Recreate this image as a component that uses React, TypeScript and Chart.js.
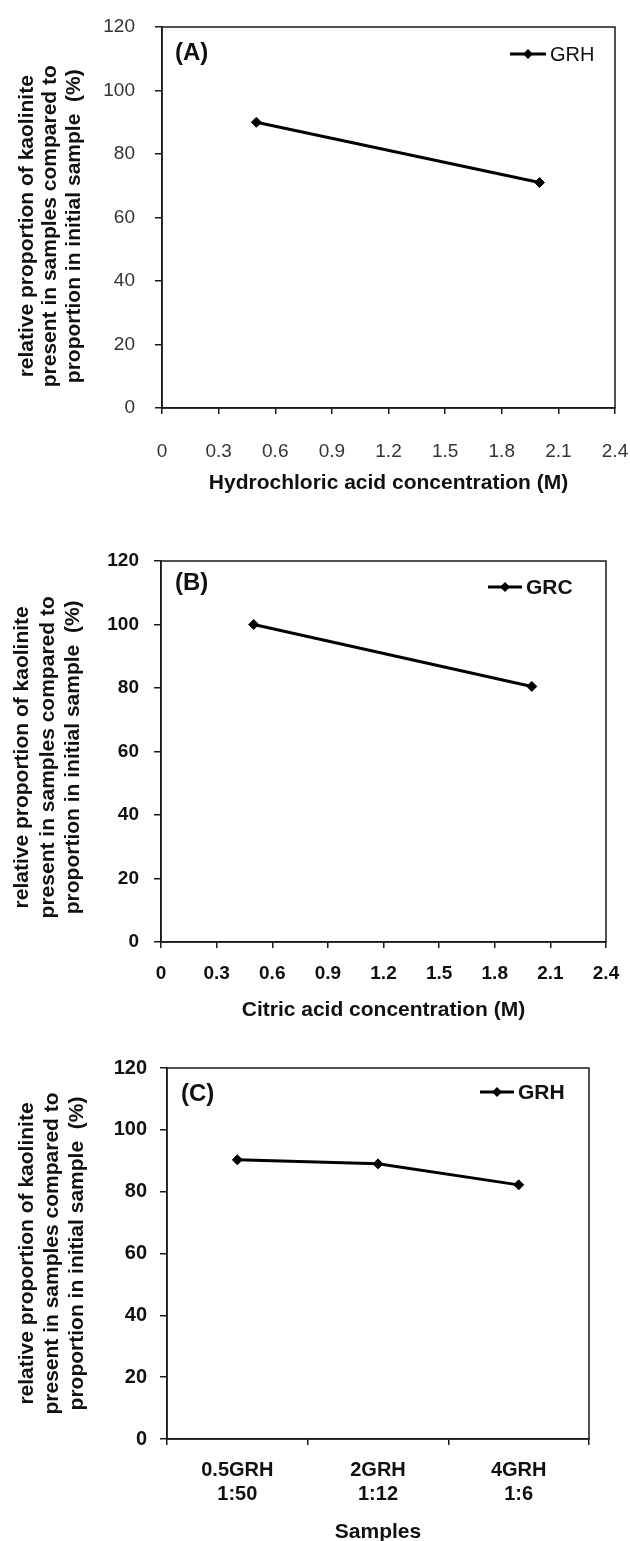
import React, { useEffect, useRef } from 'react';
import { Chart, registerables } from 'chart.js';

Chart.register(...registerables);

const FONT = "'Liberation Sans', Arial, Helvetica, sans-serif";

// ---- data ----
const concentrationTicks = [0, 0.3, 0.6, 0.9, 1.2, 1.5, 1.8, 2.1, 2.4];
const percentTicks = [0, 20, 40, 60, 80, 100, 120];

const hclConcentration = [0.5, 2.0];
const hclGRH = [90, 71];

const citricConcentration = [0.5, 2.0];
const citricGRC = [100, 80.5];

const sampleLabels = [
  ['0.5GRH', '1:50'],
  ['2GRH', '1:12'],
  ['4GRH', '1:6'],
];
const sampleGRH = [90.3, 89, 82.2];

const yTitleLines = [
  'relative proportion of kaolinite',
  'present in samples compared to',
  'proportion in initial sample  (%)',
];

// ---- decoration plugin: frame, panel letter, legend ----
const decorPlugin = {
  id: 'decor',
  afterDraw(chart: any, _args: any, o: any) {
    const { ctx, chartArea: a } = chart;
    ctx.save();
    ctx.strokeStyle = '#1a1a1a';
    ctx.lineWidth = 1.5;
    ctx.strokeRect(a.left, a.top, a.right - a.left, a.bottom - a.top);

    ctx.fillStyle = '#111';
    ctx.textBaseline = 'middle';
    ctx.textAlign = 'left';
    ctx.font = `bold 24px ${FONT}`;
    ctx.fillText(o.panel, o.panelX, o.panelY);

    const ds = chart.data.datasets[0];
    ctx.strokeStyle = '#000';
    ctx.lineWidth = 3;
    ctx.beginPath();
    ctx.moveTo(o.legX1, o.legY);
    ctx.lineTo(o.legX2, o.legY);
    ctx.stroke();
    const cx = (o.legX1 + o.legX2) / 2;
    const r = 5;
    ctx.fillStyle = '#000';
    ctx.beginPath();
    ctx.moveTo(cx, o.legY - r);
    ctx.lineTo(cx + r, o.legY);
    ctx.lineTo(cx, o.legY + r);
    ctx.lineTo(cx - r, o.legY);
    ctx.closePath();
    ctx.fill();
    ctx.fillStyle = '#111';
    ctx.font = `${o.legBold ? 'bold ' : ''}${o.legSize}px ${FONT}`;
    ctx.fillText(ds.label, o.legTextX, o.legY + 1);
    ctx.restore();
  },
};

function buildConfig(p: any) {
  const tickFont = { family: FONT, size: p.tickSize, weight: p.tickBold ? 'bold' : 'normal', lineHeight: 1.2 };
  const titleFont = { family: FONT, size: 21, weight: 'bold', lineHeight: 1.2 };
  const gridCommon = {
    display: true,
    drawOnChartArea: false,
    drawTicks: true,
    color: '#1a1a1a',
    lineWidth: 1.5,
  };
  const spaces = ' '.repeat(p.yTitleShift);
  const xScale: any =
    p.kind === 'linear'
      ? {
          type: 'linear',
          min: 0,
          max: 2.4,
          afterBuildTicks: (s: any) => {
            s.ticks = concentrationTicks.map((v) => ({ value: v }));
          },
          ticks: {
            autoSkip: false,
            maxRotation: 0,
            padding: p.xPad,
            color: p.tickColor,
            font: tickFont,
            callback: (v: any) => (Number(v) === 0 ? '0' : Number(v).toFixed(1)),
          },
        }
      : {
          type: 'category',
          offset: true,
          ticks: {
            autoSkip: false,
            maxRotation: 0,
            padding: p.xPad,
            color: p.tickColor,
            font: tickFont,
          },
        };
  xScale.afterFit = (s: any) => {
    s.height = p.xH;
    s.paddingLeft = 0;
    s.paddingRight = 0;
  };
  xScale.grid = { ...gridCommon, tickLength: 6, offset: p.kind !== 'linear' };
  xScale.border = { display: true, color: '#1a1a1a', width: 1.5 };
  xScale.title = { display: true, text: p.xTitle, color: '#111', font: titleFont, padding: { top: 0, bottom: 0 } };

  const data =
    p.kind === 'linear'
      ? { datasets: [{ label: p.series, data: p.xs.map((x: number, i: number) => ({ x, y: p.ys[i] })) }] }
      : { labels: p.labels, datasets: [{ label: p.series, data: p.ys }] };
  const ds: any = data.datasets[0];
  Object.assign(ds, {
    borderColor: '#000',
    backgroundColor: '#000',
    borderWidth: 3,
    pointStyle: 'rectRot',
    pointRadius: 5,
    pointBackgroundColor: '#000',
    pointBorderColor: '#000',
    pointBorderWidth: 1,
    tension: 0,
    fill: false,
  });

  return {
    type: 'line',
    data,
    options: {
      animation: false,
      responsive: false,
      maintainAspectRatio: false,
      layout: { padding: { left: 0, top: p.top, right: p.right, bottom: p.bottom } },
      plugins: {
        legend: { display: false },
        tooltip: { enabled: false },
        decor: p.decor,
      },
      scales: {
        x: xScale,
        y: {
          type: 'linear',
          min: 0,
          max: 120,
          afterBuildTicks: (s: any) => {
            s.ticks = percentTicks.map((v) => ({ value: v }));
          },
          afterFit: (s: any) => {
            s.width = p.yW;
            s.paddingTop = 0;
            s.paddingBottom = 0;
          },
          grid: { ...gridCommon, tickLength: 7 },
          border: { display: true, color: '#1a1a1a', width: 1.5 },
          ticks: { padding: p.yPad, color: p.tickColor, font: tickFont },
          title: {
            display: true,
            text: yTitleLines.map((t) => t + spaces),
            color: '#111',
            font: { family: FONT, size: 21, weight: 'bold', lineHeight: p.yTitleLH },
            padding: { top: p.yTitlePad, bottom: 0 },
          },
        },
      },
    },
    plugins: [decorPlugin],
  };
}

const panels = [
  {
    top: 0,
    height: 505,
    cfg: {
      kind: 'linear',
      xs: hclConcentration,
      ys: hclGRH,
      series: 'GRH',
      xTitle: 'Hydrochloric acid concentration (M)',
      tickSize: 19,
      tickBold: false,
      tickColor: '#333',
      top: 27,
      right: 15,
      bottom: 9,
      xH: 88,
      xPad: 26,
      yW: 162,
      yPad: 20,
      yTitleLH: 1.12,
      yTitlePad: 15,
      yTitleShift: 3,
      decor: { panel: '(A)', panelX: 175, panelY: 53, legX1: 510, legX2: 546, legY: 54, legTextX: 550, legSize: 20, legBold: false },
    },
  },
  {
    top: 505,
    height: 520,
    cfg: {
      kind: 'linear',
      xs: citricConcentration,
      ys: citricGRC,
      series: 'GRC',
      xTitle: 'Citric acid concentration (M)',
      tickSize: 19,
      tickBold: true,
      tickColor: '#111',
      top: 56,
      right: 24,
      bottom: 2,
      xH: 81,
      xPad: 14,
      yW: 161,
      yPad: 15,
      yTitleLH: 1.2,
      yTitlePad: 10,
      yTitleShift: 2,
      decor: { panel: '(B)', panelX: 175, panelY: 78, legX1: 488, legX2: 522, legY: 82, legTextX: 526, legSize: 21, legBold: true },
    },
  },
  {
    top: 1025,
    height: 525,
    cfg: {
      kind: 'category',
      labels: sampleLabels,
      ys: sampleGRH,
      series: 'GRH',
      xTitle: 'Samples',
      tickSize: 20,
      tickBold: true,
      tickColor: '#111',
      top: 43,
      right: 41,
      bottom: 5,
      xH: 106,
      xPad: 13,
      yW: 167,
      yPad: 13,
      yTitleLH: 1.21,
      yTitlePad: 14,
      yTitleShift: 0,
      decor: { panel: '(C)', panelX: 181, panelY: 69, legX1: 480, legX2: 514, legY: 67, legTextX: 518, legSize: 21, legBold: true },
    },
  },
];

function Panel({ top, height, cfg }: any) {
  const ref = useRef<HTMLCanvasElement | null>(null);
  useEffect(() => {
    if (!ref.current) return;
    const chart = new Chart(ref.current, buildConfig(cfg) as any);
    return () => chart.destroy();
  }, []);
  return (
    <canvas
      ref={ref}
      width={630}
      height={height}
      style={{ position: 'absolute', left: 0, top, width: 630, height, display: 'block' }}
    />
  );
}

export default function App() {
  return (
    <div
      style={{
        position: 'absolute',
        left: 0,
        top: 0,
        width: 630,
        height: 1541,
        overflow: 'hidden',
        background: '#fff',
      }}
    >
      {panels.map((p, i) => (
        <Panel key={i} top={p.top} height={p.height} cfg={p.cfg} />
      ))}
    </div>
  );
}
